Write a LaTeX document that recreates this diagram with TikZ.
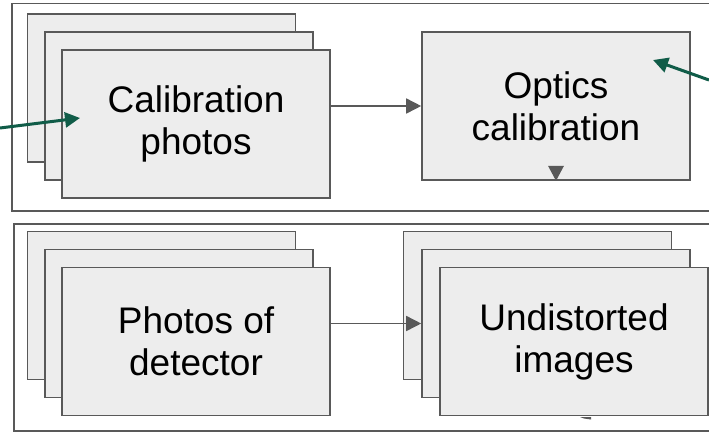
\documentclass[tikz,border=0pt]{standalone}
\usepackage{fontspec}
\setmainfont{Liberation Sans}
\usetikzlibrary{arrows.meta,calc}
\definecolor{gc}{HTML}{595959}
\definecolor{fc}{HTML}{EDEDED}
\definecolor{grn}{HTML}{105C48}
\tikzset{
 card/.style={draw=gc, fill=fc, line width=1.6pt, minimum width=268pt, minimum height=148pt, inner sep=0pt, align=center, font=\fontsize{37}{42}\selectfont},
 frame/.style={draw=gc, line width=1.6pt},
 flow/.style={draw=gc, line width=1.6pt, -{Triangle[length=15pt,width=15pt]}},
 hint/.style={draw=grn, line width=3pt, -{Triangle[length=15pt,width=15pt]}},
}
\begin{document}
\begin{tikzpicture}[x=1pt,y=-1pt]
\clip (0,0) rectangle (709,432);
\fill[white] (0,0) rectangle (709,432);
% frames
\draw[frame] (12,3.5) rectangle (730,211);
\draw[frame] (14,224) rectangle (730,431);
% top row
\node[card] (calib1) at (161.5,88) {};
\node[card] (calib2) at (179,106) {};
\node[card] (calib3) at (196,124) {Calibration\\photos};
\node[card] (optics) at (556,106) {Optics\\calibration};
\draw[flow] (calib2.center -| calib3.east) -- (optics.west);
\fill[gc] (optics.south) -- ++(-8,-15) -- ++(16,0) -- cycle;
% bottom row
\node[card] (photos1) at (161.5,305.5) {};
\node[card] (photos2) at (179,323.5) {};
\node[card] (photos3) at (196,341.5) {Photos of\\detector};
\node[card] (und1) at (537.5,305.5) {};
\node[card] (und2) at (556,323.5) {};
\node[card] (und3) at (574,341.5) {Undistorted\\images};
\draw[flow] (photos2.center -| photos3.east) -- (und2.west);
\fill[gc] (580,417) -- (591,417) -- (591,419.5) -- (584,418.5) -- cycle;
% green hint arrows
\coordinate (gl0) at (0,128);
\coordinate (gl1) at (80,118);
\coordinate (gr0) at (709,80);
\coordinate (gr1) at (653,60);
\draw[hint] (gl0) -- (gl1);
\draw[hint] (gr0) -- (gr1);
\end{tikzpicture}
\end{document}
